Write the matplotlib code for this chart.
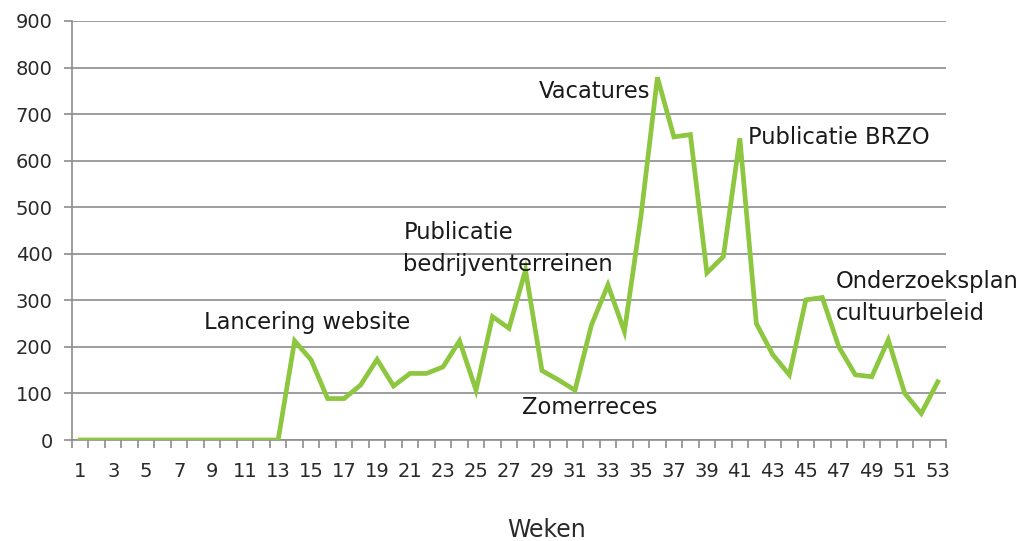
import matplotlib
matplotlib.use("Agg")
import matplotlib.pyplot as plt
import numpy as np

weeks = list(range(1, 54))
visits = [0, 0, 0, 0, 0, 0, 0, 0, 0, 0, 0, 0, 0,
          213, 172, 89, 89, 118, 173, 116, 143, 143, 157, 213, 107,
          265, 240, 365, 149, 129, 107, 247, 333, 233, 480, 779, 651,
          656, 359, 394, 648, 250, 183, 140, 301, 306, 200, 140, 136,
          215, 100, 57, 125]
tick_labels = [str(w) for w in weeks if w % 2 == 1]
annotations = [
    ("Lancering website", 8.5, 253),
    ("Publicatie\nbedrijventerreinen", 20.6, 412),
    ("Vacatures", 28.8, 748),
    ("Publicatie BRZO", 41.5, 649),
    ("Zomerreces", 27.8, 69),
    ("Onderzoeksplan\ncultuurbeleid", 46.8, 307),
]

plt.rcParams['font.family'] = ['DejaVu Sans']
fig = plt.figure(figsize=(10.26, 5.41), dpi=100)
ax = fig.add_axes([72/1026, 101/541, 874/1026, 419/541])

ax.plot(weeks, visits, color='#8DC63F', linewidth=3.4, solid_joinstyle='miter', zorder=3)

ax.set_xlim(0.5, 53.5)
ax.set_ylim(0, 900)
ax.set_yticks(np.arange(0, 901, 100))
ax.yaxis.grid(True, color='#8c8c8c', linewidth=1.2)
ax.set_axisbelow(True)

ax.set_xticks([w for w in weeks if w % 2 == 1])
ax.set_xticklabels(tick_labels)
ax.set_xticks(np.arange(0.5, 54, 1), minor=True)
ax.tick_params(axis='x', which='major', length=0, pad=16, labelsize=14, colors='#2a2a2a')
ax.tick_params(axis='x', which='minor', length=6, color='#8c8c8c', width=1.2, direction='out')
ax.tick_params(axis='y', length=6, color='#8c8c8c', width=1.2, pad=8, labelsize=14, labelcolor='#2a2a2a')

for s in ['top', 'right']:
    ax.spines[s].set_visible(False)
for s in ['left', 'bottom']:
    ax.spines[s].set_color('#8c8c8c')
    ax.spines[s].set_linewidth(1.2)

for text, x, y in annotations:
    ax.text(x, y, text, ha='left', va='center', fontsize=16.3, color='#1a1a1a',
            linespacing=1.5, zorder=4)

fig.text(547/1026, 1 - 530/541, "Weken", ha='center', va='center', fontsize=17, color='#2a2a2a')

fig.savefig("out.png", dpi=100)
